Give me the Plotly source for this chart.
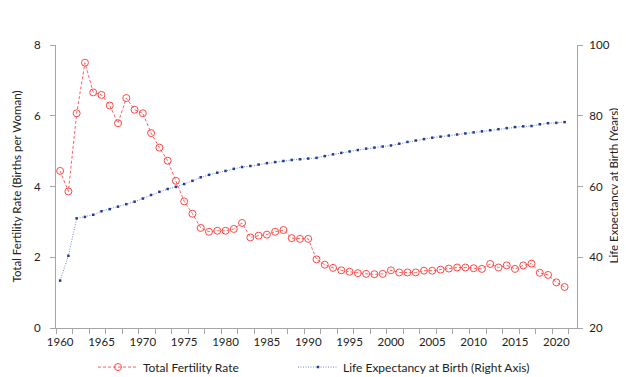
import plotly.graph_objects as go

years = list(range(1960, 2022))
fertility = [4.44, 3.86, 6.07, 7.50, 6.66, 6.59, 6.29, 5.79, 6.50, 6.17,
             6.07, 5.51, 5.10, 4.73, 4.16, 3.58, 3.23, 2.83, 2.72, 2.75,
             2.75, 2.80, 2.97, 2.56, 2.61, 2.64, 2.72, 2.77, 2.54, 2.52,
             2.52, 1.94, 1.79, 1.70, 1.63, 1.59, 1.55, 1.53, 1.52, 1.53,
             1.63, 1.57, 1.57, 1.57, 1.62, 1.62, 1.65, 1.68, 1.71, 1.71,
             1.69, 1.67, 1.81, 1.71, 1.77, 1.67, 1.77, 1.82, 1.56, 1.50,
             1.29, 1.16]
life_exp = [33.4, 40.4, 51.0, 51.4, 52.0, 53.0, 53.6, 54.3, 55.0, 55.7,
            56.6, 57.6, 58.5, 59.3, 59.9, 60.7, 61.6, 62.6, 63.3, 63.9,
            64.4, 65.0, 65.5, 65.8, 66.2, 66.6, 66.9, 67.2, 67.5, 67.7,
            67.9, 68.1, 68.6, 69.1, 69.5, 69.9, 70.3, 70.7, 71.0, 71.3,
            71.6, 72.1, 72.6, 73.0, 73.4, 73.8, 74.1, 74.4, 74.7, 75.0,
            75.3, 75.6, 75.9, 76.2, 76.5, 76.8, 77.0, 77.1, 77.6, 77.9,
            78.0, 78.2]
x_ticks = [1960, 1965, 1970, 1975, 1980, 1985, 1990, 1995, 2000, 2005, 2010, 2015, 2020]
left_title = "Total Fertility Rate (Births per Woman)"
right_title = "Life Expectancy at Birth (Years)"

FONT = "Lato"
axis_col = "#a6a6a6"

fig = go.Figure()
fig.add_trace(go.Scatter(
    x=years, y=fertility, name="Total Fertility Rate", mode="lines+markers",
    line=dict(color="#ff6060", width=1, dash="3px,2px"),
    marker=dict(symbol="circle-open", size=7, color="#ff4848", line=dict(width=1)),
    legend="legend",
))
fig.add_trace(go.Scatter(
    x=years, y=life_exp, name="Life Expectancy at Birth (Right Axis)", mode="lines+markers",
    line=dict(color="#6f88d8", width=1, dash="1px,1.5px"),
    marker=dict(symbol="square", size=2.5, color="#1f3b9a"),
    yaxis="y2", legend="legend2",
))

leg_common = dict(orientation="h", yanchor="middle", y=-0.138, xanchor="left",
                  font=dict(size=12), itemwidth=40, bgcolor="rgba(0,0,0,0)")

fig.update_layout(
    width=626, height=377,
    margin=dict(l=48, r=57, t=37, b=57, autoexpand=False),
    paper_bgcolor="white", plot_bgcolor="white",
    font=dict(family=FONT, size=11.5, color="#222222"),
    showlegend=True,
    legend=dict(x=(85 - 48) / 521, **leg_common),
    legend2=dict(x=(285 - 48) / 521, **leg_common),
    xaxis=dict(
        range=[1959.5, 2022.5], tickvals=x_ticks, ticks="", showgrid=False,
        showline=True, linecolor=axis_col, linewidth=1, zeroline=False,
        ticklabelstandoff=3,
        minor=dict(tick0=1959.5, dtick=2, ticks="outside", ticklen=5, tickcolor=axis_col, showgrid=False),
    ),
    yaxis=dict(
        range=[0, 8], dtick=2, ticks="outside", ticklen=5, tickcolor=axis_col,
        showgrid=False, showline=True, linecolor=axis_col, zeroline=False,
        ticklabelstandoff=7,
    ),
    yaxis2=dict(
        range=[20, 100], dtick=20, ticks="outside", ticklen=5, tickcolor=axis_col,
        overlaying="y", side="right", showgrid=False, showline=True, linecolor=axis_col,
        zeroline=False, ticklabelstandoff=4,
    ),
    annotations=[
        dict(text=left_title, xref="paper", yref="paper", x=(8 - 48) / 521, y=0.5,
             xanchor="center", yanchor="middle", textangle=-90, showarrow=False,
             font=dict(size=11.5)),
        dict(text=right_title, xref="paper", yref="paper", x=(605 - 48) / 521, y=0.5,
             xanchor="center", yanchor="middle", textangle=-90, showarrow=False,
             font=dict(size=11.5)),
    ],
)

fig.write_html("out.html")
